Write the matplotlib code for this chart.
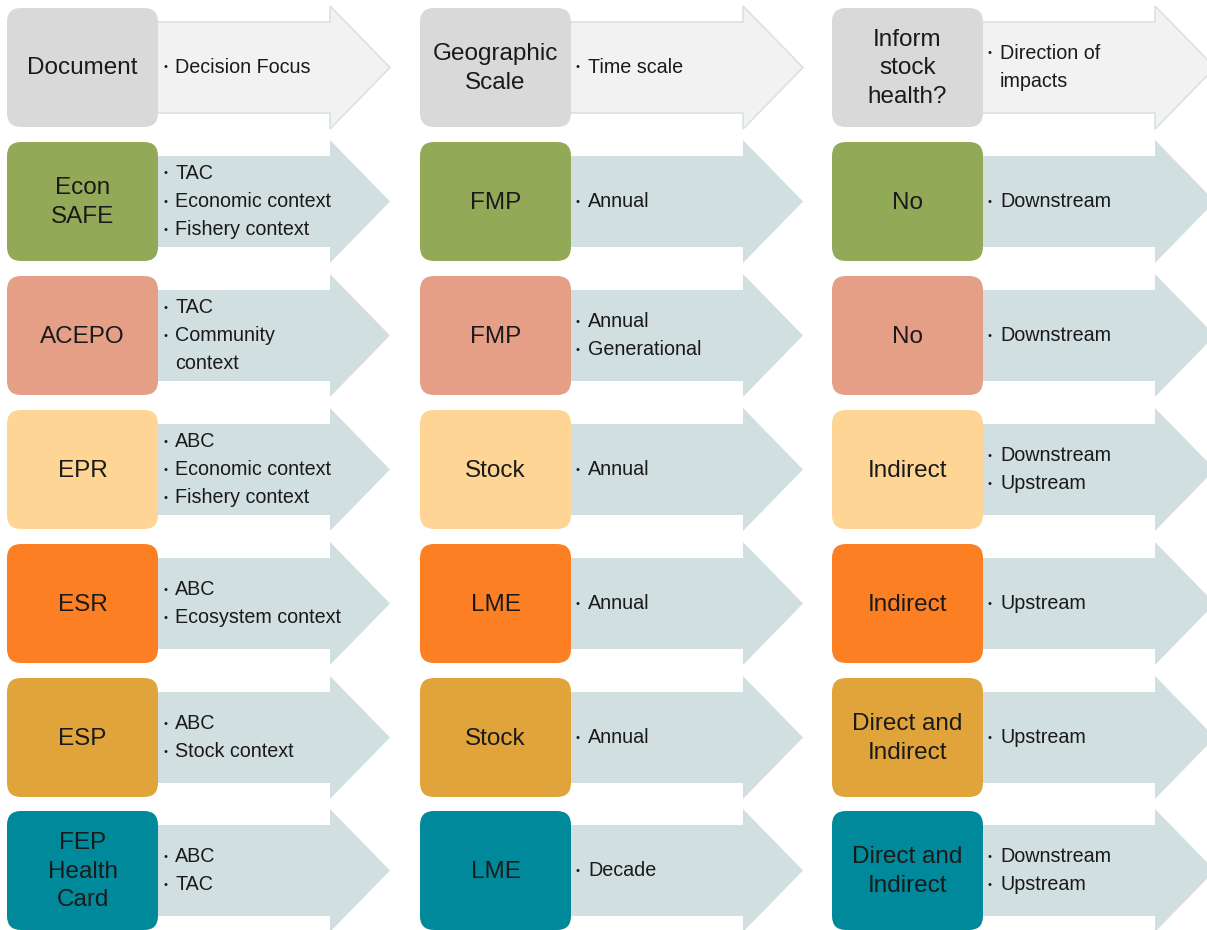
import matplotlib.pyplot as plt
from matplotlib.patches import FancyBboxPatch, Polygon

plt.rcParams['font.family'] = ['Liberation Sans', 'DejaVu Sans']

# Table content
headers = ["Document", "Geographic\nScale", "Inform\nstock\nhealth?"]
header_notes = [["Decision Focus"], ["Time scale"], ["Direction of\nimpacts"]]

docs = ["Econ\nSAFE", "ACEPO", "EPR", "ESR", "ESP", "FEP\nHealth\nCard"]
focus = [["TAC", "Economic context", "Fishery context"],
         ["TAC", "Community\ncontext"],
         ["ABC", "Economic context", "Fishery context"],
         ["ABC", "Ecosystem context"],
         ["ABC", "Stock context"],
         ["ABC", "TAC"]]
scale = ["FMP", "FMP", "Stock", "LME", "Stock", "LME"]
timescale = [["Annual"], ["Annual", "Generational"], ["Annual"],
             ["Annual"], ["Annual"], ["Decade"]]
inform = ["No", "No", "Indirect", "Indirect",
          "Direct and\nIndirect", "Direct and\nIndirect"]
direction = [["Downstream"], ["Downstream"], ["Downstream", "Upstream"],
             ["Upstream"], ["Upstream"], ["Downstream", "Upstream"]]
row_colors = ["#92a957", "#e49f86", "#fed595", "#fd7f23", "#e0a43a", "#00899a"]

# layout (pixels)
W, H = 1207, 930
col_x = [7, 420, 832]
row_y = [8, 142, 276, 410, 544, 678, 811]
box_w, box_h = 151, 119

fig = plt.figure(figsize=(W / 100, H / 100), dpi=100)
ax = fig.add_axes([0, 0, 1, 1])
ax.set_xlim(0, W)
ax.set_ylim(H, 0)
ax.axis('off')


def draw_cell(x, y, label, notes, box_color, arrow_color, edge='none'):
    # arrow behind the box
    x0 = x + 90
    xh = x + 323
    xt = x + 383
    pts = [(x0, y + 14), (xh, y + 14), (xh, y - 2), (xt, y + box_h / 2),
           (xh, y + box_h + 2), (xh, y + box_h - 14), (x0, y + box_h - 14)]
    ax.add_patch(Polygon(pts, closed=True, facecolor=arrow_color,
                         edgecolor=edge, lw=1.2, zorder=1))
    r = 14
    ax.add_patch(FancyBboxPatch((x + r, y + r), box_w - 2 * r, box_h - 2 * r,
                                boxstyle="round,pad=%d" % r,
                                facecolor=box_color, edgecolor='none', zorder=2))
    ax.text(x + box_w / 2, y + box_h / 2 + 1, label, ha='center', va='center',
            fontsize=17.5, color='#1a1a1a', linespacing=1.38, zorder=3)
    # bullet lines
    lines = []
    for item in notes:
        for k, part in enumerate(item.split("\n")):
            lines.append((k == 0, part))
    step = 28
    yc = y + box_h / 2
    first = yc - step * (len(lines) - 1) / 2
    for i, (bullet, txt) in enumerate(lines):
        ly = first + i * step
        if bullet:
            ax.text(x + box_w + 5, ly, "\u2022", ha='left', va='center',
                    fontsize=8, color='#1a1a1a', zorder=3)
        ax.text(x + box_w + 17, ly, txt, ha='left', va='center',
                fontsize=14.2, color='#1a1a1a', zorder=3)


for c in range(3):
    draw_cell(col_x[c], row_y[0], headers[c], header_notes[c],
              '#d9d9d9', '#f2f2f2', edge='#d8e2e2')

columns = [(docs, focus), (scale, timescale), (inform, direction)]
for r in range(6):
    for c, (labels, notes) in enumerate(columns):
        draw_cell(col_x[c], row_y[r + 1], labels[r], notes[r],
                  row_colors[r], '#d2dfe0')

fig.savefig('out.png', dpi=100)
